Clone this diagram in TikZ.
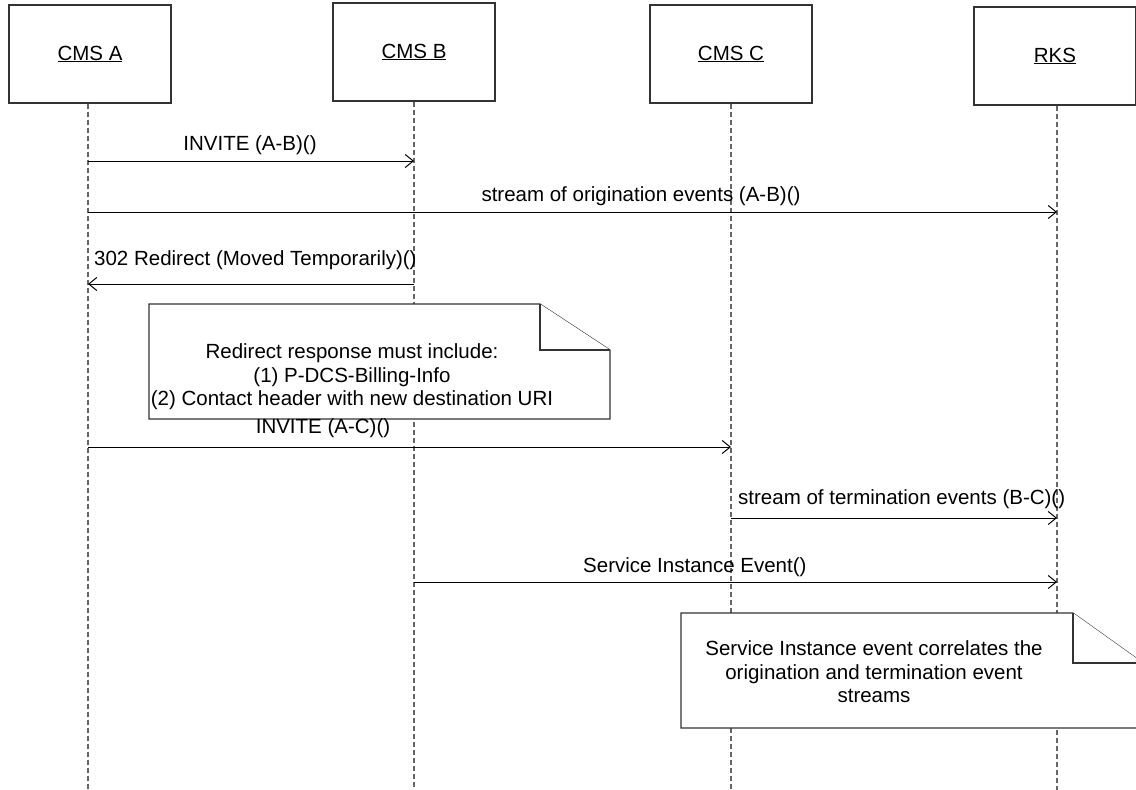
\documentclass[tikz,border=0pt]{standalone}
\usepackage{fontspec}
\setmainfont{Liberation Sans}
\usepackage{tikz}
\usetikzlibrary{arrows.meta,positioning}

\tikzset{
  lifebox/.style={draw=black!80,line width=1.3pt,fill=white,minimum width=162pt,minimum height=98pt,inner sep=0pt},
  lifeline/.style={draw=black!60,line width=1.1pt,dash pattern=on 5pt off 3pt},
  msg/.style={draw=black,line width=1pt,-{Straight Barb[length=8pt,width=13pt,line width=1pt]}},
  msglabel/.style={inner sep=0pt},
  notebox/.style={draw=black!80,line width=1.1pt,fill=white}
}

\begin{document}
\begin{tikzpicture}[x=1pt,y=-1pt,font=\fontsize{20.5}{23.5}\selectfont]
  \useasboundingbox (0,0) rectangle (1136,790);
  % participants
  \node[lifebox] (cmsA) at (90,54) {\underline{CMS A}};
  \node[lifebox] (cmsB) at (414,52) {\underline{CMS B}};
  \node[lifebox] (cmsC) at (731,54) {\underline{CMS C}};
  \node[lifebox] (rks) at (1055,56) {\underline{RKS}};
  \foreach \n/\x in {cmsA/88,cmsB/414,cmsC/731,rks/1057}{
    \coordinate (\n-end) at (\x,790);
    \draw[lifeline] (\n.south -| \n-end) -- (\n-end);
  }

  % messages
  \coordinate (invAB-s) at (88,161);  \coordinate (invAB-e) at (414,161);
  \draw[msg] (invAB-s) -- (invAB-e);
  \node[msglabel,anchor=base] (invAB) at (250,150) {INVITE (A-B)()};

  \coordinate (orig-s) at (88,212);  \coordinate (orig-e) at (1057,212);
  \draw[msg] (orig-s) -- (orig-e);
  \node[msglabel,anchor=base] (orig) at (641,201) {stream of origination events (A-B)()};

  \coordinate (redir-s) at (414,284);  \coordinate (redir-e) at (88,284);
  \draw[msg] (redir-s) -- (redir-e);
  \node[msglabel,anchor=base west] (redir) at (94,265) {302 Redirect (Moved Temporarily)()};

  % note 1
  \draw[notebox] (149,304) -- (540,304) -- (610,350) -- (610,419) -- (149,419) -- cycle;
  \draw[notebox] (540,304) -- (540,350) -- (610,350);
  \node[align=center,inner sep=0pt] (note1) at (352,377) {Redirect response must include:\\(1) P-DCS-Billing-Info\\(2) Contact header with new destination URI};

  \coordinate (invAC-s) at (88,447);  \coordinate (invAC-e) at (731,447);
  \draw[msg] (invAC-s) -- (invAC-e);
  \node[msglabel,anchor=base] (invAC) at (323,433) {INVITE (A-C)()};

  \coordinate (term-s) at (731,518);  \coordinate (term-e) at (1057,518);
  \draw[msg] (term-s) -- (term-e);
  \node[msglabel,anchor=base west] (term) at (738,504) {stream of termination events (B-C)()};

  \coordinate (sie-s) at (414,582);  \coordinate (sie-e) at (1057,582);
  \draw[msg] (sie-s) -- (sie-e);
  \node[msglabel,anchor=base west] (sie) at (583,572) {Service Instance Event()};

  % note 2
  \draw[notebox] (681,613) -- (1073,613) -- (1143,663) -- (1143,728) -- (681,728) -- cycle;
  \draw[notebox] (1073,613) -- (1073,663) -- (1143,663);
  \node[align=center,inner sep=0pt] (note2) at (874,672) {Service Instance event correlates the\\origination and termination event\\streams};
\end{tikzpicture}
\end{document}
